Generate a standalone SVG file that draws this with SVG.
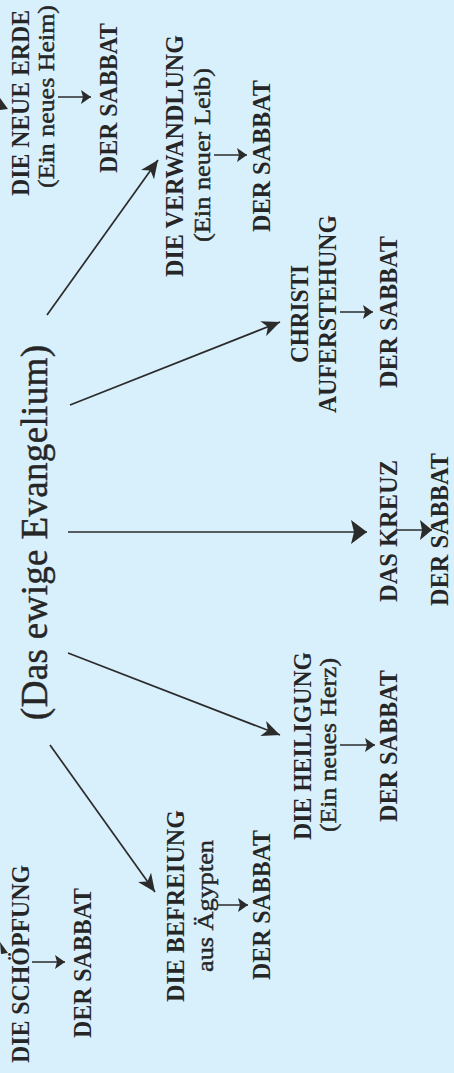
<svg xmlns="http://www.w3.org/2000/svg" width="454" height="1073" viewBox="0 0 454 1073">
<style>
.t{font-family:"Liberation Serif","Times New Roman",serif;fill:#262626}
.b{font-weight:bold;font-size:26px}
.bs{font-size:24.5px}
.r{font-weight:normal;font-size:24px;stroke:#262626;stroke-width:0.45}
.h{font-weight:normal;font-size:37px;stroke:#262626;stroke-width:0.45}
.ln{stroke:#2b2b2b;stroke-width:1.7;fill:none}
.sl{stroke:#2b2b2b;stroke-width:1.5;fill:none}
</style>
<defs>
<marker id="ah" markerUnits="userSpaceOnUse" markerWidth="19" markerHeight="16" refX="18" refY="8" orient="auto">
<path d="M0,0 L18,8 L0,16 L5,8 z" fill="#2b2b2b"/>
</marker>
<marker id="ahb" markerUnits="userSpaceOnUse" markerWidth="17" markerHeight="24" refX="16" refY="12" orient="auto">
<path d="M0,0 L16,12 L0,24 L3,12 z" fill="#2b2b2b"/>
</marker>
<marker id="as" markerUnits="userSpaceOnUse" markerWidth="11" markerHeight="14" refX="10" refY="7" orient="auto">
<path d="M0,0 L10,7 L0,14 L2,7 z" fill="#2b2b2b"/>
</marker>
<marker id="asb" markerUnits="userSpaceOnUse" markerWidth="13" markerHeight="20" refX="12" refY="10" orient="auto">
<path d="M0,0 L12,10 L0,20 L2,10 z" fill="#2b2b2b"/>
</marker>
</defs>
<rect width="454" height="1073" fill="#d8f0fc"/>

<g id="connectors">
<line class="ln" x1="47" y1="315" x2="158" y2="160" marker-end="url(#ah)"/>
<line class="ln" x1="70" y1="405" x2="280" y2="322" marker-end="url(#ah)"/>
<line class="ln" x1="68" y1="532" x2="367" y2="532" marker-end="url(#ahb)"/>
<line class="ln" x1="68" y1="653" x2="280" y2="735" marker-end="url(#ah)"/>
<line class="ln" x1="50" y1="745" x2="155" y2="892" marker-end="url(#ah)"/>
<line class="sl" x1="58" y1="97" x2="91" y2="97" marker-end="url(#as)"/>
<line class="sl" x1="214" y1="155" x2="247" y2="155" marker-end="url(#as)"/>
<line class="sl" x1="340" y1="312" x2="373" y2="312" marker-end="url(#as)"/>
<line class="sl" x1="397" y1="530" x2="432" y2="530" marker-end="url(#asb)"/>
<line class="sl" x1="340" y1="745" x2="375" y2="745" marker-end="url(#as)"/>
<line class="sl" x1="217" y1="905" x2="248" y2="905" marker-end="url(#as)"/>
<line class="sl" x1="32" y1="962" x2="65" y2="962" marker-end="url(#as)"/>
<path d="M0,98 L8,109 L0,110 z" fill="#2b2b2b"/>
<path d="M0,942 L8,953 L1,954 z" fill="#2b2b2b"/>
</g>

<g id="title">
<text class="t h" x="47" y="720" transform="rotate(-90 47 720)" textLength="375" lengthAdjust="spacing">(Das ewige Evangelium)</text>
</g>

<g id="neue-erde">
<text class="t b bs" x="29" y="196" transform="rotate(-90 29 196)" textLength="186" lengthAdjust="spacingAndGlyphs">DIE NEUE ERDE</text>
<text class="t r" x="54" y="188" transform="rotate(-90 54 188)" textLength="183" lengthAdjust="spacingAndGlyphs">(Ein neues Heim)</text>
<text class="t b" x="117" y="173" transform="rotate(-90 117 173)" textLength="150" lengthAdjust="spacingAndGlyphs">DER SABBAT</text>
</g>

<g id="verwandlung">
<text class="t b" x="183" y="277" transform="rotate(-90 183 277)" textLength="242" lengthAdjust="spacingAndGlyphs">DIE VERWANDLUNG</text>
<text class="t r" x="210" y="242" transform="rotate(-90 210 242)" textLength="174" lengthAdjust="spacingAndGlyphs">(Ein neuer Leib)</text>
<text class="t b" x="270" y="232" transform="rotate(-90 270 232)" textLength="152" lengthAdjust="spacingAndGlyphs">DER SABBAT</text>
</g>

<g id="auferstehung">
<text class="t b" x="308" y="363" transform="rotate(-90 308 363)" textLength="98" lengthAdjust="spacingAndGlyphs">CHRISTI</text>
<text class="t b" x="336" y="413" transform="rotate(-90 336 413)" textLength="198" lengthAdjust="spacingAndGlyphs">AUFERSTEHUNG</text>
<text class="t b" x="397" y="388" transform="rotate(-90 397 388)" textLength="152" lengthAdjust="spacingAndGlyphs">DER SABBAT</text>
</g>

<g id="kreuz">
<text class="t b" x="397" y="602" transform="rotate(-90 397 602)" textLength="142" lengthAdjust="spacingAndGlyphs">DAS KREUZ</text>
<text class="t b" x="448" y="606" transform="rotate(-90 448 606)" textLength="153" lengthAdjust="spacingAndGlyphs">DER SABBAT</text>
</g>

<g id="heiligung">
<text class="t b" x="311" y="840" transform="rotate(-90 311 840)" textLength="188" lengthAdjust="spacingAndGlyphs">DIE HEILIGUNG</text>
<text class="t r" x="336" y="832" transform="rotate(-90 336 832)" textLength="174" lengthAdjust="spacingAndGlyphs">(Ein neues Herz)</text>
<text class="t b" x="397" y="822" transform="rotate(-90 397 822)" textLength="152" lengthAdjust="spacingAndGlyphs">DER SABBAT</text>
</g>

<g id="befreiung">
<text class="t b" x="184" y="1002" transform="rotate(-90 184 1002)" textLength="192" lengthAdjust="spacingAndGlyphs">DIE BEFREIUNG</text>
<text class="t r" x="213" y="972" transform="rotate(-90 213 972)" textLength="132" lengthAdjust="spacingAndGlyphs">aus Ägypten</text>
<text class="t b" x="270" y="980" transform="rotate(-90 270 980)" textLength="150" lengthAdjust="spacingAndGlyphs">DER SABBAT</text>
</g>

<g id="schoepfung">
<text class="t b" x="29" y="1063" transform="rotate(-90 29 1063)" textLength="198" lengthAdjust="spacingAndGlyphs">DIE SCHÖPFUNG</text>
<text class="t b" x="91" y="1038" transform="rotate(-90 91 1038)" textLength="150" lengthAdjust="spacingAndGlyphs">DER SABBAT</text>
</g>
</svg>
